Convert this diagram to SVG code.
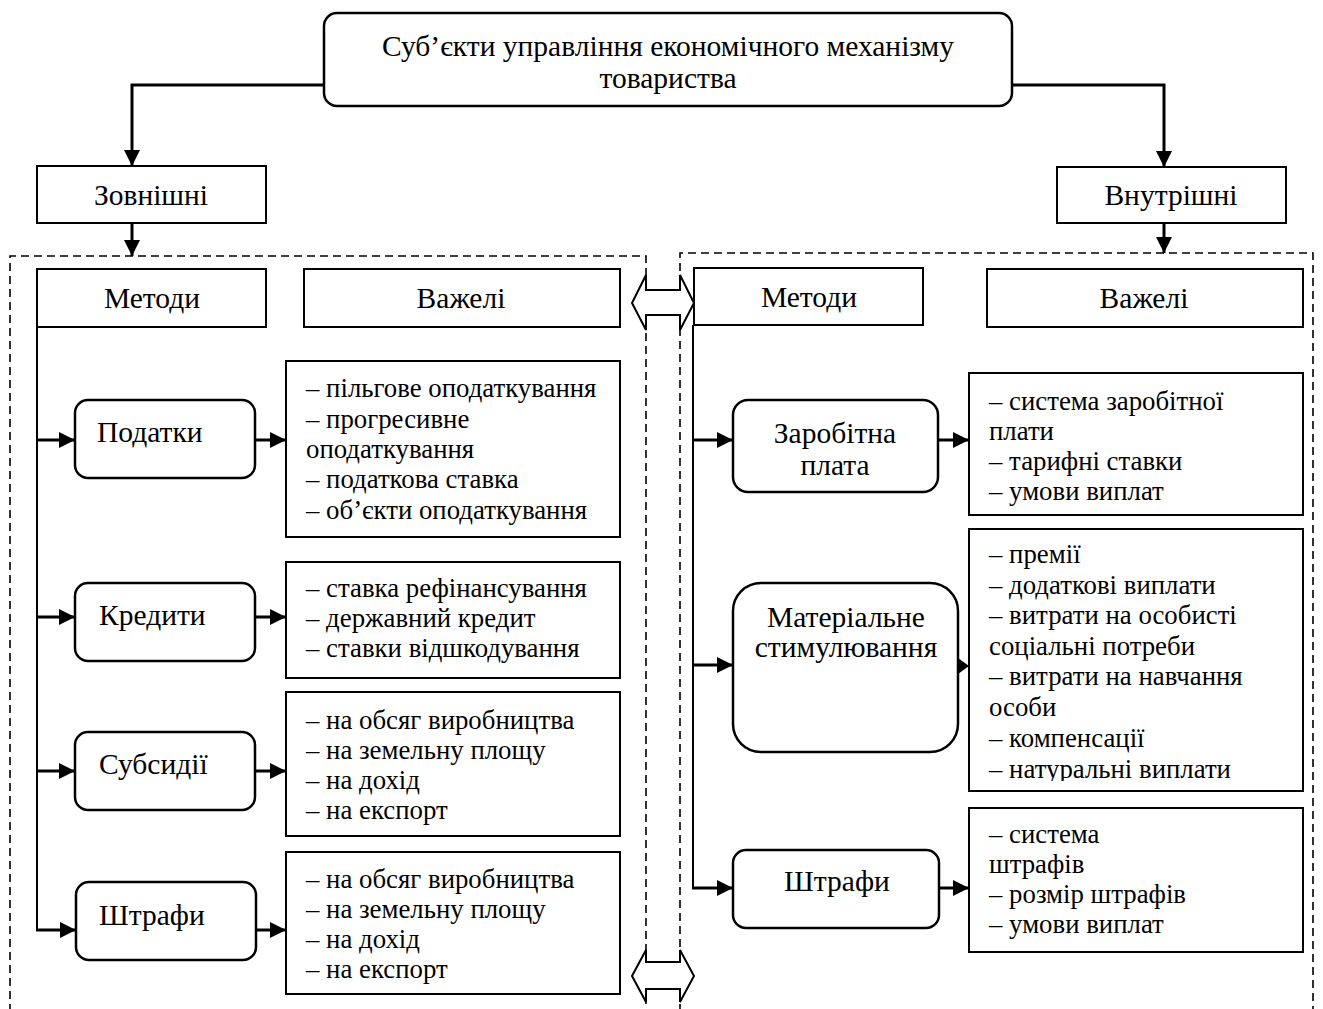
<svg xmlns="http://www.w3.org/2000/svg" width="1323" height="1009" viewBox="0 0 1323 1009">
  <style>
    text { font-family: "Liberation Serif", "Times New Roman", serif; fill: #000; }
    .t { font-size: 29.5px; }
    .l { font-size: 26.8px; }
    .c { text-anchor: middle; }
    .box { fill: #fff; stroke: #000; stroke-width: 2; }
    .rbox { fill: #fff; stroke: #000; stroke-width: 2.5; }
    .dash { fill: none; stroke: #000; stroke-width: 1.6; stroke-dasharray: 8 5; }
    .wire { fill: none; stroke: #000; stroke-width: 3; }
    .thin { fill: none; stroke: #000; stroke-width: 2; }
    .dbl { fill: #fff; stroke: #000; stroke-width: 2; stroke-linejoin: miter; }
  </style>
  <defs>
    <marker id="ah" markerUnits="userSpaceOnUse" markerWidth="16" markerHeight="16" refX="16" refY="8" orient="auto">
      <path d="M0,0 L16,8 L0,16 Z" fill="#000"/>
    </marker>
    <clipPath id="clipStim">
      <rect x="969" y="529" width="334" height="252"/>
    </clipPath>
  </defs>
  <rect width="1323" height="1009" fill="#fff"/>

  <!-- dashed frames for the two groups -->
  <g id="frames">
    <path class="dash" d="M10,1012 V256 H646 V1012"/>
    <path class="dash" d="M680,1012 V253 H1313 V1012"/>
  </g>

  <!-- connectors -->
  <g id="connectors">
    <path class="wire" d="M324,85 H132 V166" marker-end="url(#ah)"/>
    <path class="wire" d="M1012,85 H1164 V167" marker-end="url(#ah)"/>
    <path class="wire" d="M132,223 V256" marker-end="url(#ah)"/>
    <path class="wire" d="M1164,223 V253" marker-end="url(#ah)"/>

    <!-- left spine -->
    <path class="thin" d="M37,327 V930"/>
    <path class="wire" d="M36,440 H75" marker-end="url(#ah)"/>
    <path class="wire" d="M36,617 H75" marker-end="url(#ah)"/>
    <path class="wire" d="M36,771 H75" marker-end="url(#ah)"/>
    <path class="wire" d="M36,930 H76" marker-end="url(#ah)"/>
    <path class="wire" d="M255,440 H286" marker-end="url(#ah)"/>
    <path class="wire" d="M255,617 H286" marker-end="url(#ah)"/>
    <path class="wire" d="M255,771 H286" marker-end="url(#ah)"/>
    <path class="wire" d="M256,930 H286" marker-end="url(#ah)"/>

    <!-- right spine -->
    <path class="thin" d="M693,325 V888"/>
    <path class="wire" d="M692,440 H733" marker-end="url(#ah)"/>
    <path class="wire" d="M692,665 H733" marker-end="url(#ah)"/>
    <path class="wire" d="M692,888 H733" marker-end="url(#ah)"/>
    <path class="wire" d="M938,440 H969" marker-end="url(#ah)"/>
    <path d="M958,658 L969,666 L958,674 Z" fill="#000"/>
    <path class="wire" d="M939,888 H969" marker-end="url(#ah)"/>

    <!-- two-way arrows between the groups -->
    <path class="dbl" d="M632,303 L646,275 V290 H680 V275 L694,303 L680,330 V315 H646 V330 Z"/>
    <path class="dbl" d="M632,976 L646,950 V962 H680 V950 L694,976 L680,1002 V989 H646 V1002 Z"/>
  </g>

  <g id="subjects">
    <rect class="rbox" x="324" y="13" width="688" height="93" rx="13"/>
    <text class="t c" x="668" y="56">Суб’єкти управління економічного механізму</text>
    <text class="t c" x="668" y="88">товариства</text>
  </g>

  <g id="external">
    <rect class="box" x="37" y="166" width="229" height="57"/>
    <text class="t c" x="151" y="205">Зовнішні</text>
  </g>
  <g id="internal">
    <rect class="box" x="1057" y="167" width="229" height="56"/>
    <text class="t c" x="1171" y="205">Внутрішні</text>
  </g>

  <!-- external group -->
  <g id="ext-methods">
    <rect class="box" x="37" y="269" width="229" height="58"/>
    <text class="t c" x="152" y="308">Методи</text>
  </g>
  <g id="ext-levers">
    <rect class="box" x="304" y="269" width="316" height="58"/>
    <text class="t c" x="461" y="308">Важелі</text>
  </g>

  <g id="taxes">
    <rect class="rbox" x="75" y="400" width="180" height="78" rx="13"/>
    <text class="t" x="97" y="442">Податки</text>
  </g>
  <g id="taxes-levers">
    <rect class="box" x="286" y="361" width="334" height="176"/>
    <text class="l" x="306" y="397">– пільгове оподаткування</text>
    <text class="l" x="306" y="428">– прогресивне</text>
    <text class="l" x="306" y="458">оподаткування</text>
    <text class="l" x="306" y="488">– податкова ставка</text>
    <text class="l" x="306" y="519">– об’єкти оподаткування</text>
  </g>

  <g id="credits">
    <rect class="rbox" x="75" y="583" width="180" height="78" rx="13"/>
    <text class="t" x="99" y="625">Кредити</text>
  </g>
  <g id="credits-levers">
    <rect class="box" x="286" y="562" width="334" height="116"/>
    <text class="l" x="306" y="597">– ставка рефінансування</text>
    <text class="l" x="306" y="627">– державний кредит</text>
    <text class="l" x="306" y="657">– ставки відшкодування</text>
  </g>

  <g id="subsidies">
    <rect class="rbox" x="75" y="732" width="180" height="78" rx="13"/>
    <text class="t" x="99" y="774">Субсидії</text>
  </g>
  <g id="subsidies-levers">
    <rect class="box" x="286" y="692" width="334" height="144"/>
    <text class="l" x="306" y="729">– на обсяг виробництва</text>
    <text class="l" x="306" y="759">– на земельну площу</text>
    <text class="l" x="306" y="789">– на дохід</text>
    <text class="l" x="306" y="819">– на експорт</text>
  </g>

  <g id="ext-fines">
    <rect class="rbox" x="76" y="882" width="180" height="78" rx="13"/>
    <text class="t" x="99" y="925">Штрафи</text>
  </g>
  <g id="ext-fines-levers">
    <rect class="box" x="286" y="852" width="334" height="142"/>
    <text class="l" x="306" y="888">– на обсяг виробництва</text>
    <text class="l" x="306" y="918">– на земельну площу</text>
    <text class="l" x="306" y="948">– на дохід</text>
    <text class="l" x="306" y="978">– на експорт</text>
  </g>

  <!-- internal group -->
  <g id="int-methods">
    <rect class="box" x="694" y="268" width="229" height="57"/>
    <text class="t c" x="809" y="307">Методи</text>
  </g>
  <g id="int-levers">
    <rect class="box" x="987" y="269" width="316" height="58"/>
    <text class="t c" x="1144" y="308">Важелі</text>
  </g>

  <g id="wages">
    <rect class="rbox" x="733" y="400" width="205" height="92" rx="15"/>
    <text class="t c" x="835" y="443">Заробітна</text>
    <text class="t c" x="835" y="475">плата</text>
  </g>
  <g id="wages-levers">
    <rect class="box" x="969" y="373" width="334" height="142"/>
    <text class="l" x="989" y="410">– система заробітної</text>
    <text class="l" x="989" y="440">плати</text>
    <text class="l" x="989" y="470">– тарифні ставки</text>
    <text class="l" x="989" y="500">– умови виплат</text>
  </g>

  <g id="incentives">
    <rect class="rbox" x="733" y="583" width="225" height="169" rx="28"/>
    <text class="t c" x="846" y="627">Матеріальне</text>
    <text class="t c" x="846" y="657">стимулювання</text>
  </g>
  <g id="incentives-levers">
    <rect class="box" x="969" y="529" width="334" height="262"/>
    <g clip-path="url(#clipStim)">
      <text class="l" x="989" y="563">– премії</text>
      <text class="l" x="989" y="594">– додаткові виплати</text>
      <text class="l" x="989" y="624">– витрати на особисті</text>
      <text class="l" x="989" y="655">соціальні потреби</text>
      <text class="l" x="989" y="685">– витрати на навчання</text>
      <text class="l" x="989" y="716">особи</text>
      <text class="l" x="989" y="747">– компенсації</text>
      <text class="l" x="989" y="778">– натуральні виплати</text>
    </g>
  </g>

  <g id="int-fines">
    <rect class="rbox" x="733" y="850" width="206" height="78" rx="13"/>
    <text class="t c" x="837" y="891">Штрафи</text>
  </g>
  <g id="int-fines-levers">
    <rect class="box" x="969" y="808" width="334" height="144"/>
    <text class="l" x="989" y="843">– система</text>
    <text class="l" x="989" y="873">штрафів</text>
    <text class="l" x="989" y="903">– розмір штрафів</text>
    <text class="l" x="989" y="933">– умови виплат</text>
  </g>
</svg>
